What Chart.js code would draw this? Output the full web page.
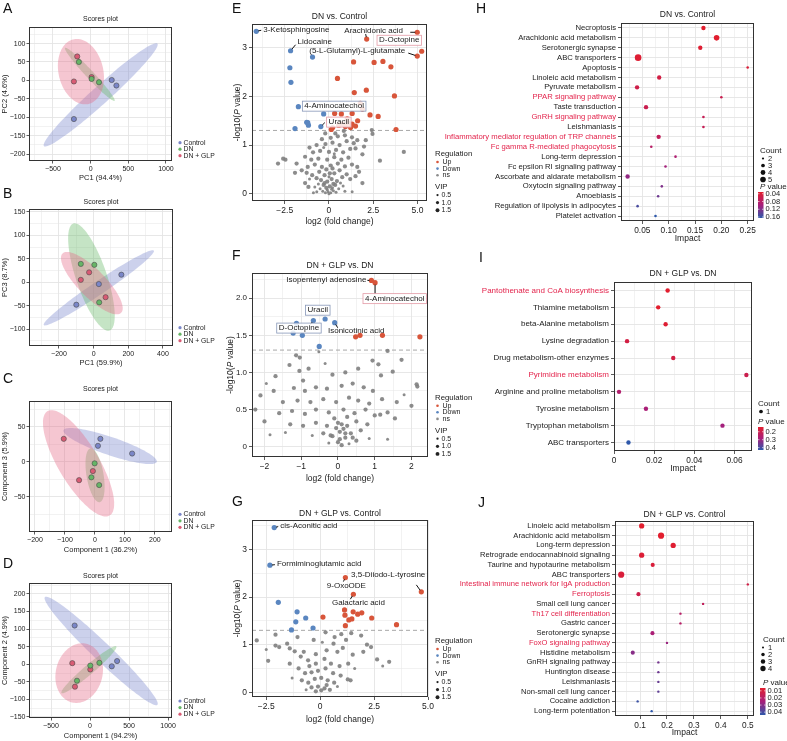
<!DOCTYPE html>
<html>
<head>
<meta charset="utf-8">
<title>Metabolomics panels</title>
<script src="https://cdn.jsdelivr.net/npm/chart.js@4.4.1/dist/chart.umd.min.js"></script>
<style>
  html, body { margin: 0; padding: 0; background: #fff; }
  #page { position: relative; width: 787px; height: 741px; overflow: hidden; font-family: Arial, "Liberation Sans", sans-serif; }
  #page canvas { position: absolute; }
  .tag { position: absolute; font-size: 14px; line-height: 14px; color: #111; }
</style>
</head>
<body>
<div id="page">
  <canvas id="cA"></canvas><canvas id="cB"></canvas><canvas id="cC"></canvas><canvas id="cD"></canvas>
  <canvas id="cE"></canvas><canvas id="cF"></canvas><canvas id="cG"></canvas>
  <canvas id="cH"></canvas><canvas id="cI"></canvas><canvas id="cJ"></canvas>
  <div class="tag" style="left:3px;top:1px">A</div>
  <div class="tag" style="left:3px;top:186px">B</div>
  <div class="tag" style="left:3px;top:371px">C</div>
  <div class="tag" style="left:3px;top:556px">D</div>
  <div class="tag" style="left:232px;top:1px">E</div>
  <div class="tag" style="left:232px;top:248px">F</div>
  <div class="tag" style="left:232px;top:494px">G</div>
  <div class="tag" style="left:476px;top:1px">H</div>
  <div class="tag" style="left:479px;top:250px">I</div>
  <div class="tag" style="left:478px;top:495px">J</div>
</div>
<script>
const FONT = 'Arial, "Liberation Sans", sans-serif';
const INK = '#1a1a1a';
const LABEL_RED = '#e3244c';

// ---- A-D scores plots: [x, y] per sample ----
const groupNames = ['Control', 'DN', 'DN + GLP'];
const groupColors = ['#7a86c8', '#66b566', '#d95b74'];
const groupFills = ['rgba(122,134,204,0.38)', 'rgba(102,184,102,0.38)', 'rgba(228,104,134,0.38)'];

const aControl = [[-222, -105], [280, 1], [342, -14]];
const aDN = [[-156, 50], [13, 4], [111, -5]];
const aGLP = [[-178, 65], [-222, -3], [13, 9]];
const aXTicks = [-500, 0, 500, 1000];
const aYTicks = [-200, -150, -100, -50, 0, 50, 100];

const bControl = [[160, 16], [30, -4], [-100, -48]];
const bDN = [[-74, 39], [4, 37], [32, -43]];
const bGLP = [[-26, 21], [-74, 5], [69, -32]];
const bXTicks = [-200, 0, 200, 400];
const bYTicks = [-100, -50, 0, 50, 100, 150];

const cControl = [[18, 33], [10, 23], [124, 12]];
const cDN = [[-1, -2], [-12, -22], [14, -33]];
const cGLP = [[-104, 33], [-7, -13], [-53, -26]];
const cXTicks = [-200, -100, 0, 100, 200];
const cYTicks = [-50, 0, 50];

const dControl = [[-197, 110], [347, 9], [279, -6]];
const dDN = [[4, -4], [120, 4], [-167, -47]];
const dGLP = [[-227, 3], [4, -15], [-193, -64]];
const dXTicks = [-500, 0, 500, 1000];
const dYTicks = [-150, -100, -50, 0, 50, 100, 150, 200];

// ---- E-G volcano plots: [log2FC, -log10 P] (ns also carries VIP) ----
const upColor = '#d8553a';
const downColor = '#5a86c0';
const nsColor = 'rgba(128,128,128,0.9)';
const sigVip = 1.5;
const vipLegend = [0.5, 1.0, 1.5];

const eUp = [[2.13, 3.18], [4.99, 3.32], [4.99, 2.83], [5.24, 2.93], [1.39, 2.71], [2.55, 2.70], [3.05, 2.72], [3.50, 2.61],
  [0.48, 2.37], [1.43, 2.08], [2.11, 2.13], [3.70, 2.01], [1.77, 1.86], [1.89, 1.74], [0.32, 1.65], [0.70, 1.64],
  [1.03, 1.54], [1.31, 1.65], [2.32, 1.62], [2.78, 1.59], [0.78, 1.43], [1.09, 1.45], [1.50, 1.39], [0.93, 1.38],
  [1.31, 1.43], [1.62, 1.50], [0.13, 1.32], [0.21, 1.36], [3.79, 1.32], [0.55, 1.41], [1.22, 1.36]];
const eDown = [[-4.11, 3.34], [-2.17, 2.94], [-1.73, 1.79], [-0.46, 1.38], [-0.93, 2.81], [-2.21, 2.59], [-2.15, 2.29],
  [-0.30, 1.64], [-1.26, 1.47], [-1.16, 1.41], [-1.20, 1.46], [-1.92, 1.34]];
const eNs = [[-0.35, 0.05, 0.5], [-0.2, 0.02, 0.5], [-0.05, 0.04, 0.5], [0.1, 0.02, 0.5], [0.25, 0.06, 0.5], [0.4, 0.03, 0.5],
  [-0.5, 0.1, 0.5], [0.55, 0.1, 0.5], [-0.15, 0.12, 1], [0.05, 0.15, 1], [0.2, 0.12, 0.5], [-0.3, 0.18, 1], [0.35, 0.18, 1],
  [-0.6, 0.2, 0.5], [0.65, 0.22, 0.5], [-0.8, 0.14, 0.5], [0.8, 0.16, 0.5], [-0.88, 0.02, 0.5], [-0.69, 0.04, 0.5],
  [1.31, 0.04, 0.5], [0.9, 0.05, 0.5], [-0.1, 0.08, 0.5], [0.15, 0.09, 0.5], [0.0, 0.0, 0.5], [-0.25, 0.22, 1], [0.25, 0.2, 1],
  [-0.45, 0.28, 1], [-0.1, 0.25, 1], [0.15, 0.3, 1], [0.45, 0.26, 1], [-0.7, 0.32, 1], [0.75, 0.34, 1], [-0.95, 0.38, 1],
  [1.0, 0.4, 1], [-0.25, 0.38, 1], [0.3, 0.42, 1], [-1.16, 0.14, 1], [-1.35, 0.22, 1], [1.89, 0.22, 1], [-0.55, 0.45, 1],
  [0.6, 0.48, 1], [1.2, 0.3, 1], [-1.1, 0.3, 0.5], [1.5, 0.36, 1], [0.0, 0.35, 0.5], [-1.26, 0.43, 1], [-1.92, 0.43, 1],
  [1.7, 0.45, 1], [0.05, 0.42, 1], [-0.15, 0.5, 1], [0.2, 0.52, 1],
  [-1.54, 0.48, 1], [-1.2, 0.55, 1], [-0.8, 0.6, 1], [-0.4, 0.55, 1], [0.1, 0.58, 1], [0.5, 0.62, 1], [0.9, 0.56, 1],
  [1.3, 0.6, 1], [1.6, 0.55, 1], [-1.0, 0.7, 1], [-0.6, 0.72, 1], [-0.1, 0.7, 1], [0.3, 0.75, 1], [0.7, 0.7, 1],
  [1.1, 0.74, 1], [1.89, 0.81, 1], [-1.35, 0.76, 1], [-1.83, 0.62, 1], [-2.88, 0.62, 1], [-2.59, 0.72, 1], [-2.46, 0.7, 1],
  [2.88, 0.68, 1], [4.23, 0.86, 1], [1.5, 0.93, 1], [1.98, 0.97, 1],
  [-0.9, 0.85, 1], [-0.5, 0.88, 1], [0.0, 0.86, 1], [0.4, 0.9, 1], [0.8, 0.85, 1], [1.2, 0.92, 1], [-0.7, 1.0, 1],
  [-0.2, 1.02, 1], [0.2, 1.05, 1], [0.6, 1.0, 1], [1.0, 1.08, 1], [1.4, 1.04, 1], [-0.4, 1.12, 1], [0.1, 1.15, 1],
  [0.5, 1.18, 1], [0.9, 1.2, 1], [1.3, 1.16, 1], [2.08, 1.1, 1], [-0.21, 1.24, 1], [0.36, 1.24, 1], [0.84, 1.29, 1],
  [2.42, 1.31, 1], [2.46, 1.23, 1], [-1.1, 0.95, 1], [-0.3, 0.95, 0.5], [0.3, 0.82, 0.5], [1.6, 1.1, 1]];
const eXTicks = [-2.5, 0, 2.5, 5];
const eYTicks = [0, 1, 2, 3];

const fUp = [[0.91, 2.24], [1.01, 2.21], [0.48, 1.48], [0.60, 1.50], [1.21, 1.50], [2.23, 1.48]];
const fDown = [[-0.35, 1.72], [-0.67, 1.70], [-0.09, 1.67], [-1.13, 1.66], [-1.22, 1.53], [-0.97, 1.50], [-0.51, 1.35]];
const fNs = [[-1.14, 1.23, 1], [-1.04, 1.2, 1], [-1.32, 1.1, 1], [-0.52, 1.28, 0.5], [1.35, 1.29, 1], [0.94, 1.16, 1],
  [1.1, 1.11, 1], [1.73, 1.17, 1], [-1.05, 1.02, 1], [-0.95, 0.89, 1], [-0.15, 0.97, 1], [1.17, 0.96, 1], [1.49, 1.01, 1],
  [2.14, 0.84, 1], [2.16, 0.81, 1], [-1.75, 0.75, 1], [-2.11, 0.69, 1], [-1.2, 0.79, 1], [-2.25, 0.5, 1], [-2.0, 0.34, 1],
  [-1.85, 0.16, 0.5], [-1.43, 0.19, 0.5], [1.35, 0.46, 1], [1.15, 0.43, 1], [1.35, 0.1, 0.5], [0.85, 0.11, 0.5], [0.62, 0.22, 1],
  [-0.9, 0.75, 1], [-0.6, 0.8, 1], [-0.3, 0.78, 1], [0.1, 0.82, 1], [0.4, 0.85, 1], [0.7, 0.8, 1], [0.95, 0.75, 1],
  [-1.5, 0.6, 1], [-1.1, 0.62, 1], [-0.75, 0.6, 1], [-0.4, 0.64, 1], [-0.05, 0.6, 1], [0.3, 0.66, 1], [0.55, 0.62, 1],
  [0.85, 0.58, 1], [1.2, 0.64, 1], [1.6, 0.6, 1], [-1.6, 0.45, 1], [-1.25, 0.48, 1], [-0.9, 0.44, 1], [-0.6, 0.5, 1],
  [-0.25, 0.46, 1], [0.15, 0.5, 1], [0.45, 0.45, 1], [0.75, 0.5, 1], [1.0, 0.42, 1], [1.55, 0.38, 1], [-1.3, 0.3, 1],
  [-0.95, 0.28, 1], [-0.6, 0.32, 1], [-0.3, 0.28, 1], [0.0, 0.32, 1], [0.25, 0.28, 1], [0.5, 0.34, 1], [0.8, 0.3, 1],
  [-0.7, 0.15, 0.5], [-0.4, 0.18, 1], [-0.15, 0.14, 1], [0.05, 0.2, 1], [0.2, 0.12, 1], [0.35, 0.18, 1], [0.5, 0.08, 1],
  [-0.25, 0.05, 0.5], [0.0, 0.06, 1], [0.1, 0.02, 1], [0.3, 0.04, 0.5], [-0.05, 0.25, 1], [0.15, 0.24, 1], [-1.7, 0.95, 1],
  [-0.8, 1.05, 1], [0.55, 1.05, 1], [-0.35, 1.12, 0.5], [0.2, 1.0, 1], [1.8, 0.7, 0.5], [2.0, 0.55, 1], [-1.95, 0.85, 0.5],
  [0.05, 0.1, 1], [0.2, 0.18, 1], [0.1, 0.3, 1], [-0.1, 0.38, 1], [0.25, 0.4, 1], [0.4, 0.12, 1], [-0.2, 0.15, 1]];
const fXTicks = [-2, -1, 0, 1, 2];
const fYTicks = [0, 0.5, 1, 1.5, 2];

const gUp = [[4.69, 2.11], [1.17, 2.41], [1.54, 2.06], [0.13, 1.58], [1.13, 1.73], [1.53, 1.69], [1.93, 1.67], [1.74, 1.64],
  [1.33, 1.52], [1.47, 1.54], [1.17, 1.40], [2.39, 1.56], [3.54, 1.42], [1.15, 1.62]];
const gDown = [[-2.13, 3.46], [-2.33, 2.67], [-1.94, 1.89], [-1.07, 1.69], [-1.13, 1.48], [-0.67, 1.56], [-0.33, 1.35], [-1.33, 1.31]];
const gNs = [[-2.07, 1.21, 1], [-2.94, 1.09, 1], [-2.41, 0.66, 1], [-2.07, 0.98, 1], [-1.9, 0.95, 1], [-1.53, 1.02, 1],
  [-1.41, 0.92, 1], [-1.05, 1.16, 1], [0.25, 1.26, 1], [0.67, 1.16, 1], [0.98, 1.22, 1], [1.44, 1.24, 1], [1.9, 1.19, 1],
  [2.17, 1.0, 1], [2.36, 0.95, 1], [2.64, 0.69, 1], [3.2, 0.64, 1], [0.62, 1.02, 1], [1.05, 0.93, 1], [1.51, 0.79, 1],
  [1.28, 0.27, 1], [1.41, 0.25, 1], [-1.41, 0.6, 1], [-1.18, 0.86, 1], [-0.76, 0.85, 1], [-0.56, 0.67, 1],
  [-0.3, 1.1, 1], [0.1, 1.05, 0.5], [1.2, 1.1, 1], [0.8, 0.85, 1], [0.3, 0.88, 1], [-0.2, 0.8, 1], [-0.9, 0.75, 1],
  [-0.5, 0.55, 1], [-0.2, 0.6, 1], [0.2, 0.7, 1], [0.5, 0.6, 1], [0.9, 0.55, 1], [1.3, 0.6, 1], [-1.0, 0.5, 1],
  [-0.7, 0.4, 1], [-0.4, 0.42, 1], [-0.1, 0.45, 1], [0.25, 0.5, 1], [0.6, 0.4, 1], [0.95, 0.35, 1], [-0.85, 0.25, 1],
  [-0.55, 0.2, 1], [-0.25, 0.28, 1], [0.05, 0.3, 1], [0.35, 0.25, 1], [0.65, 0.2, 1], [-0.4, 0.1, 1], [-0.1, 0.12, 1],
  [0.2, 0.08, 1], [0.45, 0.05, 1], [-0.2, 0.02, 1], [0.05, 0.04, 1], [0.3, 0.15, 1], [-0.65, 0.05, 0.5], [0.8, 0.12, 0.5],
  [1.6, 0.5, 0.5], [2.0, 0.85, 1], [-1.3, 0.3, 0.5], [-2.5, 0.9, 0.5], [2.9, 0.55, 0.5]];
const gXTicks = [-2.5, 0, 2.5, 5];
const gYTicks = [0, 1, 2, 3];

// ---- H-J pathway dot plots ----
const hPathways = ['Necroptosis', 'Arachidonic acid metabolism', 'Serotonergic synapse', 'ABC transporters', 'Apoptosis',
  'Linoleic acid metabolism', 'Pyruvate metabolism', 'PPAR signaling pathway', 'Taste transduction', 'GnRH signaling pathway',
  'Leishmaniasis', 'Inflammatory mediator regulation of TRP channels', 'Fc gamma R-mediated phagocytosis',
  'Long-term depression', 'Fc epsilon RI signaling pathway', 'Ascorbate and aldarate metabolism',
  'Oxytocin signaling pathway', 'Amoebiasis', 'Regulation of lipolysis in adipocytes', 'Platelet activation'];
const hImpact = [0.166, 0.191, 0.160, 0.042, 0.250, 0.082, 0.040, 0.200, 0.057, 0.166, 0.166, 0.081, 0.067, 0.113,
  0.094, 0.022, 0.087, 0.080, 0.041, 0.075];
const hPvalue = [0.031, 0.032, 0.035, 0.036, 0.04, 0.05, 0.055, 0.06, 0.06, 0.065, 0.065, 0.07, 0.08, 0.09, 0.10,
  0.11, 0.12, 0.13, 0.15, 0.165];
const hCount = [3, 4, 3, 5, 2, 3, 3, 2, 3, 2, 2, 3, 2, 2, 2, 3, 2, 2, 2, 2];
const hHighlight = ['PPAR signaling pathway', 'GnRH signaling pathway', 'Inflammatory mediator regulation of TRP channels',
  'Fc gamma R-mediated phagocytosis'];
const hXTicks = [0.05, 0.10, 0.15, 0.20, 0.25];
const hPTicks = [0.04, 0.08, 0.12, 0.16];

const iPathways = ['Pantothenate and CoA biosynthesis', 'Thiamine metabolism', 'beta-Alanine metabolism',
  'Lysine degradation', 'Drug metabolism-other enzymes', 'Pyrimidine metabolism', 'Arginine and proline metabolism',
  'Tyrosine metabolism', 'Tryptophan metabolism', 'ABC transporters'];
const iImpact = [0.0267, 0.022, 0.0257, 0.0065, 0.0295, 0.0659, 0.0025, 0.0159, 0.054, 0.0072];
const iPvalue = [0.14, 0.14, 0.15, 0.18, 0.18, 0.2, 0.26, 0.28, 0.29, 0.43];
const iCount = [1, 1, 1, 1, 1, 1, 1, 1, 1, 1];
const iHighlight = ['Pantothenate and CoA biosynthesis', 'Pyrimidine metabolism'];
const iXTicks = [0, 0.02, 0.04, 0.06];
const iPTicks = [0.2, 0.3, 0.4];

const jPathways = ['Linoleic acid metabolism', 'Arachidonic acid metabolism', 'Long-term depression',
  'Retrograde endocannabinoid signaling', 'Taurine and hypotaurine metabolism', 'ABC transporters',
  'Intestinal immune network for IgA production', 'Ferroptosis', 'Small cell lung cancer', 'Th17 cell differentiation',
  'Gastric cancer', 'Serotonergic synapse', 'FoxO signaling pathway', 'Histidine metabolism', 'GnRH signaling pathway',
  'Huntington disease', 'Leishmaniasis', 'Non-small cell lung cancer', 'Cocaine addiction', 'Long-term potentiation'];
const jImpact = [0.106, 0.178, 0.223, 0.106, 0.147, 0.030, 0.500, 0.094, 0.334, 0.250, 0.250, 0.146, 0.200, 0.073,
  0.168, 0.168, 0.168, 0.168, 0.091, 0.143];
const jPvalue = [0.006, 0.006, 0.007, 0.008, 0.009, 0.009, 0.012, 0.013, 0.017, 0.02, 0.02, 0.024, 0.027, 0.03,
  0.033, 0.034, 0.035, 0.036, 0.042, 0.044];
const jCount = [3, 4, 3, 3, 2, 4, 1, 2, 1, 1, 1, 2, 1, 2, 1, 1, 1, 1, 1, 1];
const jHighlight = ['Intestinal immune network for IgA production', 'Ferroptosis', 'Th17 cell differentiation',
  'FoxO signaling pathway'];
const jXTicks = [0.1, 0.2, 0.3, 0.4, 0.5];
const jPTicks = [0.01, 0.02, 0.03, 0.04];

// page geometry: canvas box and plot box, [left, top, right, bottom]
const layout = {
  A: { canvas: [0, 0, 255, 186], plot: [29, 27, 172, 161] },
  B: { canvas: [0, 186, 255, 370], plot: [29, 209, 173, 346] },
  C: { canvas: [0, 370, 255, 556], plot: [29, 401, 172, 532] },
  D: { canvas: [0, 556, 255, 741], plot: [29, 583, 172, 718] },
  E: { canvas: [226, 0, 482, 236], plot: [252, 24, 427, 201] },
  F: { canvas: [226, 246, 482, 486], plot: [252, 273, 428, 457] },
  G: { canvas: [226, 492, 482, 741], plot: [252, 520, 428, 697] },
  H: { canvas: [395, 0, 787, 246], plot: [621, 23, 754, 221] },
  I: { canvas: [440, 246, 787, 486], plot: [614, 282, 752, 451] },
  J: { canvas: [420, 492, 787, 741], plot: [615, 521, 754, 716] }
};

Chart.defaults.font.family = FONT;

const minus = s => String(s).replace('-', '\u2212');

function buildTicks(majors, min, max) {
  const step = majors[1] - majors[0];
  const out = [];
  for (let i = -1; i < majors.length; i++) {
    const base = i < 0 ? majors[0] - step : majors[i];
    if (i >= 0) out.push({ value: majors[i] });
    const mid = +(base + step / 2).toFixed(6);
    if (mid > min && mid < max) out.push({ value: mid });
  }
  return out.sort((a, b) => a.value - b.value);
}

function linAxis(o) {
  const majorSet = new Set(o.majors);
  const isMajor = ctx => !!ctx.tick && majorSet.has(ctx.tick.value);
  return {
    type: 'linear', position: o.pos, min: o.min, max: o.max,
    afterBuildTicks: s => { s.ticks = buildTicks(o.majors, o.min, o.max); },
    afterFit: s => { if (o.pos === 'left') s.width = o.size; else s.height = o.size; },
    grid: {
      color: '#e4e4e4',
      lineWidth: ctx => isMajor(ctx) ? 0.9 : 0.5,
      tickLength: o.tickLen || 3,
      tickWidth: 0.8,
      tickColor: ctx => isMajor(ctx) ? '#333' : 'rgba(0,0,0,0)'
    },
    border: { display: false },
    ticks: {
      autoSkip: false, maxRotation: 0, padding: o.pad || 2, color: INK,
      font: { family: FONT, size: o.font },
      callback: v => majorSet.has(v) ? o.fmt(v) : ''
    }
  };
}

function richWidth(c, parts, size) {
  let w = 0;
  parts.forEach(p => { c.font = (p[1] ? 'italic ' : '') + size + 'px ' + FONT; w += c.measureText(p[0]).width; });
  return w;
}

function drawRich(c, parts, x, y, size, align) {
  const w = richWidth(c, parts, size);
  let cx = align === 'left' ? x : x - w / 2;
  c.textAlign = 'left';
  c.textBaseline = 'middle';
  parts.forEach(p => {
    c.font = (p[1] ? 'italic ' : '') + size + 'px ' + FONT;
    c.fillText(p[0], cx, y);
    cx += c.measureText(p[0]).width;
  });
}

function dot(c, x, y, r, color) {
  c.fillStyle = color;
  c.beginPath();
  c.arc(x, y, r, 0, Math.PI * 2);
  c.fill();
}

function deco(key, spec) {
  const L = layout[key];
  const ox = L.canvas[0], oy = L.canvas[1];
  return {
    id: 'deco' + key,
    beforeDatasetsDraw(chart) {
      if (!spec.under) return;
      const c = chart.ctx, a = chart.chartArea;
      c.save();
      c.beginPath();
      c.rect(a.left, a.top, a.right - a.left, a.bottom - a.top);
      c.clip();
      spec.under(chart);
      c.restore();
    },
    afterDatasetsDraw(chart) {
      if (!spec.over) return;
      chart.ctx.save();
      spec.over(chart);
      chart.ctx.restore();
    },
    afterDraw(chart) {
      const c = chart.ctx, a = chart.chartArea;
      c.save();
      c.strokeStyle = '#333';
      c.lineWidth = 1;
      c.strokeRect(a.left + 0.5, a.top + 0.5, a.right - a.left - 1, a.bottom - a.top - 1);
      c.fillStyle = INK;
      drawRich(c, [[spec.title]], (a.left + a.right) / 2, spec.titleY - oy, spec.titleSize);
      drawRich(c, spec.xTitle, (a.left + a.right) / 2, spec.xTitleY - oy, spec.axisSize);
      if (spec.yTitle) {
        c.save();
        c.translate(spec.yTitleX - ox, (a.top + a.bottom) / 2);
        c.rotate(-Math.PI / 2);
        drawRich(c, spec.yTitle, 0, 0, spec.axisSize);
        c.restore();
      }
      if (spec.legend) spec.legend(c, ox, oy);
      c.restore();
    }
  };
}

function prepCanvas(key) {
  const L = layout[key];
  const el = document.getElementById('c' + key);
  el.width = L.canvas[2] - L.canvas[0];
  el.height = L.canvas[3] - L.canvas[1];
  el.style.left = L.canvas[0] + 'px';
  el.style.top = L.canvas[1] + 'px';
  return el;
}

function baseOptions(key, scales) {
  const L = layout[key];
  return {
    responsive: false, animation: false, events: [],
    layout: { padding: { left: 0, top: L.plot[1] - L.canvas[1], right: L.canvas[2] - L.plot[2], bottom: 0 } },
    plugins: { legend: { display: false }, tooltip: { enabled: false } },
    scales
  };
}

const sizes = key => {
  const L = layout[key];
  return { yW: L.plot[0] - L.canvas[0], xH: L.canvas[3] - L.plot[3] };
};

// ---------- scores plots ----------
function drawEllipse(chart, pts, fill) {
  const n = pts.length;
  const mx = pts.reduce((s, p) => s + p[0], 0) / n;
  const my = pts.reduce((s, p) => s + p[1], 0) / n;
  let a = 0, b = 0, d = 0;
  pts.forEach(p => { const dx = p[0] - mx, dy = p[1] - my; a += dx * dx; b += dx * dy; d += dy * dy; });
  a /= n - 1; b /= n - 1; d /= n - 1;
  const tr = (a + d) / 2, disc = Math.sqrt(((a - d) / 2) ** 2 + b * b);
  const l1 = tr + disc, l2 = Math.max(tr - disc, 0);
  const th = 0.5 * Math.atan2(2 * b, a - d);
  const k = Math.sqrt(5.991); // 95% chi-square, 2 df
  const xs = chart.scales.x, ys = chart.scales.y, c = chart.ctx;
  c.beginPath();
  for (let i = 0; i <= 120; i++) {
    const t = i / 120 * Math.PI * 2;
    const u = k * Math.sqrt(l1) * Math.cos(t), v = k * Math.sqrt(l2) * Math.sin(t);
    const x = mx + u * Math.cos(th) - v * Math.sin(th);
    const y = my + u * Math.sin(th) + v * Math.cos(th);
    const px = xs.getPixelForValue(x), py = ys.getPixelForValue(y);
    if (i) c.lineTo(px, py); else c.moveTo(px, py);
  }
  c.closePath();
  c.fillStyle = fill;
  c.fill();
}

function scoresChart(key, groups, xr, yr, xTicks, yTicks, xTitle, yTitle, titleY, xTitleY, legendY) {
  const s = sizes(key);
  const fmt = v => minus(v);
  new Chart(prepCanvas(key), {
    type: 'scatter',
    data: {
      datasets: groups.map((g, i) => ({
        data: g.map(p => ({ x: p[0], y: p[1] })),
        pointRadius: 2.6, pointBackgroundColor: groupColors[i],
        pointBorderColor: '#4a4a4a', pointBorderWidth: 0.6
      }))
    },
    options: baseOptions(key, {
      x: linAxis({ pos: 'bottom', min: xr[0], max: xr[1], majors: xTicks, fmt, size: s.xH, font: 7, tickLen: 2.5, pad: 1 }),
      y: linAxis({ pos: 'left', min: yr[0], max: yr[1], majors: yTicks, fmt, size: s.yW, font: 7, tickLen: 2.5, pad: 1 })
    }),
    plugins: [deco(key, {
      title: 'Scores plot', titleY, titleSize: 7,
      xTitle: [[xTitle]], xTitleY, yTitle: [[yTitle]], yTitleX: 5, axisSize: 7.5,
      under: chart => groups.forEach((g, i) => drawEllipse(chart, g, groupFills[i])),
      legend: (c, ox, oy) => {
        groupNames.forEach((g, i) => {
          dot(c, 180 - ox, legendY[i] - oy, 1.6, groupColors[i]);
          c.fillStyle = INK;
          drawRich(c, [[g]], 183.5 - ox, legendY[i] - oy, 6.8, 'left');
        });
      }
    })]
  });
}

scoresChart('A', [aControl, aDN, aGLP], [-818, 1080], [-219, 145], aXTicks, aYTicks, 'PC1 (94.4%)', 'PC2 (4.6%)', 19.3, 178, [142.7, 149.2, 155.7]);
scoresChart('B', [bControl, bDN, bGLP], [-373, 458], [-136, 156], bXTicks, bYTicks, 'PC1 (59.9%)', 'PC3 (8.7%)', 202.3, 362.7, [327.7, 334.2, 340.7]);
scoresChart('C', [cControl, cDN, cGLP], [-220, 257], [-100, 87], cXTicks, cYTicks, 'Component 1 (36.2%)', 'Component 3 (5.9%)', 389.3, 550, [514.3, 520.8, 527.3]);
scoresChart('D', [dControl, dDN, dGLP], [-782, 1051], [-153, 231], dXTicks, dYTicks, 'Component 1 (94.2%)', 'Component 2 (4.9%)', 575.7, 735.5, [701, 707.6, 714.2]);

// ---------- volcano plots ----------
const vipRadius = v => Math.sqrt(Math.max(0.5, 2.25 + (v - 0.5) * 4.5));
const PINK_BOX = '#e39aa6';
const BLUE_BOX = '#8797b8';

// label placement: which point, text offset (px), leader end (px)
const eLabels = [
  { text: '3-Ketosphingosine', set: 'down', i: 0, dx: 7, dy: -1, align: 'left', lx: 5, ly: -1 },
  { text: 'Lidocaine', set: 'down', i: 1, dx: 7, dy: -9, align: 'left', lx: 5, ly: -6 },
  { text: '(5-L-Glutamyl)-L-glutamate', set: 'up', i: 2, dx: -12, dy: -5, align: 'right', lx: -9, ly: -3 },
  { text: 'Arachidonic acid', set: 'up', i: 0, dx: 7, dy: -8.5, align: 'center', lx: -1, ly: -5 },
  { text: 'D-Octopine', set: 'up', i: 1, dx: -18, dy: 8, align: 'center', lx: -7, ly: 0, box: PINK_BOX },
  { text: '4-Aminocatechol', set: 'down', i: 2, dx: 6, dy: -0.5, align: 'left', box: BLUE_BOX },
  { text: 'Uracil', set: 'down', i: 3, dx: 18, dy: -4.5, align: 'center', lx: 4, ly: -4, box: PINK_BOX }
];
const fLabels = [
  { text: 'Isopentenyl adenosine', set: 'up', i: 0, dx: -5, dy: -0.5, align: 'right', lx: -4, ly: 0 },
  { text: '4-Aminocatechol', set: 'up', i: 1, dx: 19.7, dy: 16, align: 'center', lx: 0, ly: 11, box: PINK_BOX },
  { text: 'Uracil', set: 'down', i: 0, dx: -7.3, dy: -8.8, align: 'center', box: BLUE_BOX },
  { text: 'D-Octopine', set: 'down', i: 1, dx: -14.4, dy: 7.6, align: 'center', lx: -3, ly: 4, box: BLUE_BOX },
  { text: 'Isonicotinic acid', set: 'down', i: 2, dx: -6.7, dy: 7.8, align: 'left', lx: 3, ly: 5 }
];
const gLabels = [
  { text: 'cis-Aconitic acid', set: 'down', i: 0, dx: 6, dy: -2, align: 'left', lx: 4, ly: -1 },
  { text: 'Formiminoglutamic acid', set: 'down', i: 1, dx: 7, dy: -1, align: 'left', lx: 5, ly: -0.5 },
  { text: '3,5-Diiodo-L-tyrosine', set: 'up', i: 0, dx: 4, dy: -17.5, align: 'right', lx: -5, ly: -7 },
  { text: '9-OxoODE', set: 'up', i: 1, dx: 1, dy: 8.5, align: 'center', lx: -2, ly: 4 },
  { text: 'Galactaric acid', set: 'up', i: 2, dx: 5, dy: 9, align: 'center', lx: -3, ly: 5 }
];

function drawLabels(chart, labels, sets) {
  const c = chart.ctx, xs = chart.scales.x, ys = chart.scales.y;
  labels.forEach(Lb => {
    const p = sets[Lb.set][Lb.i];
    const px = xs.getPixelForValue(p[0]), py = ys.getPixelForValue(p[1]);
    if (Lb.lx !== undefined) {
      const len = Math.hypot(Lb.lx, Lb.ly) || 1;
      c.strokeStyle = '#111';
      c.lineWidth = 1;
      c.beginPath();
      c.moveTo(px + Lb.lx / len * 2, py + Lb.ly / len * 2);
      c.lineTo(px + Lb.lx, py + Lb.ly);
      c.stroke();
    }
    c.font = '8px ' + FONT;
    const w = c.measureText(Lb.text).width;
    const ax = px + Lb.dx, ay = py + Lb.dy;
    const left = Lb.align === 'left' ? ax : Lb.align === 'right' ? ax - w : ax - w / 2;
    if (Lb.box) {
      c.fillStyle = 'rgba(255,255,255,0.85)';
      c.fillRect(left - 2, ay - 5, w + 4, 10);
      c.strokeStyle = Lb.box;
      c.lineWidth = 0.8;
      c.strokeRect(left - 2, ay - 5, w + 4, 10);
    }
    c.fillStyle = INK;
    c.textAlign = 'left';
    c.textBaseline = 'middle';
    c.fillText(Lb.text, left, ay);
  });
}

function volcanoChart(key, o) {
  const s = sizes(key);
  new Chart(prepCanvas(key), {
    type: 'scatter',
    data: {
      datasets: [
        { data: o.ns.map(p => ({ x: p[0], y: p[1] })), pointRadius: o.ns.map(p => vipRadius(p[2])), pointBackgroundColor: nsColor, pointBorderWidth: 0 },
        { data: o.down.map(p => ({ x: p[0], y: p[1] })), pointRadius: vipRadius(sigVip), pointBackgroundColor: downColor, pointBorderWidth: 0 },
        { data: o.up.map(p => ({ x: p[0], y: p[1] })), pointRadius: vipRadius(sigVip), pointBackgroundColor: upColor, pointBorderWidth: 0 }
      ]
    },
    options: baseOptions(key, {
      x: linAxis({ pos: 'bottom', min: o.xr[0], max: o.xr[1], majors: o.xTicks, fmt: o.xFmt, size: s.xH, font: 8.5 }),
      y: linAxis({ pos: 'left', min: o.yr[0], max: o.yr[1], majors: o.yTicks, fmt: o.yFmt, size: s.yW, font: o.yFont })
    }),
    plugins: [deco(key, {
      title: o.title, titleY: o.titleY, titleSize: 8.5,
      xTitle: [['log2 (fold change)']], xTitleY: o.xTitleY,
      yTitle: [['-log10('], ['P', true], [' value)']], yTitleX: o.yTitleX, axisSize: 8.5,
      under: chart => {
        const c = chart.ctx, a = chart.chartArea;
        const y = chart.scales.y.getPixelForValue(-Math.log10(0.05));
        c.strokeStyle = '#a8a8a8';
        c.lineWidth = 1;
        c.setLineDash([4, 3]);
        c.beginPath();
        c.moveTo(a.left, y);
        c.lineTo(a.right, y);
        c.stroke();
        c.setLineDash([]);
      },
      over: chart => drawLabels(chart, o.labels, { up: o.up, down: o.down }),
      legend: (c, ox, oy) => {
        const x = 435 - ox, y0 = o.legendY - oy;
        c.fillStyle = INK;
        drawRich(c, [['Regulation']], x, y0, 7.8, 'left');
        [['Up', upColor], ['Down', downColor], ['ns', nsColor]].forEach((r, i) => {
          const y = y0 + 8 + i * 6.6;
          dot(c, x + 2.5, y, 1.3, r[1]);
          c.fillStyle = INK;
          drawRich(c, [[r[0]]], x + 7.5, y, 7, 'left');
        });
        drawRich(c, [['VIP']], x, y0 + 33, 7.8, 'left');
        vipLegend.forEach((v, i) => {
          const y = y0 + 41 + i * 7.6;
          dot(c, x + 2.5, y, vipRadius(v) * 0.75, '#222');
          c.fillStyle = INK;
          drawRich(c, [[v.toFixed(1)]], x + 6.5, y, 7, 'left');
        });
      }
    })]
  });
}

const fmt1 = v => v === 0 ? '0' : minus(v.toFixed(1));
const fmtInt = v => minus(v);

volcanoChart('E', { up: eUp, down: eDown, ns: eNs, labels: eLabels, xr: [-4.35, 5.54], yr: [-0.15, 3.49],
  xTicks: eXTicks, yTicks: eYTicks, xFmt: fmt1, yFmt: fmtInt, yFont: 8.5, yTitleX: 238,
  title: 'DN vs. Control', titleY: 16.5, xTitleY: 222, legendY: 154 });
volcanoChart('F', { up: fUp, down: fDown, ns: fNs, labels: fLabels, xr: [-2.34, 2.45], yr: [-0.14, 2.34],
  xTicks: fXTicks, yTicks: fYTicks, xFmt: fmtInt, yFmt: fmt1, yFont: 8, yTitleX: 231,
  title: 'DN + GLP vs. DN', titleY: 266, xTitleY: 479, legendY: 397.7 });
volcanoChart('G', { up: gUp, down: gDown, ns: gNs, labels: gLabels, xr: [-3.16, 5.0], yr: [-0.1, 3.62],
  xTicks: gXTicks, yTicks: gYTicks, xFmt: fmt1, yFmt: fmtInt, yFont: 8.5, yTitleX: 238,
  title: 'DN + GLP vs. Control', titleY: 513.3, xTitleY: 720, legendY: 641 });

// ---------- pathway dot plots ----------
const pStops = [[226, 30, 46], [168, 30, 122], [46, 88, 170]];
function pColor(t) {
  t = Math.min(1, Math.max(0, t));
  const seg = t < 0.5 ? 0 : 1;
  const u = t < 0.5 ? t * 2 : (t - 0.5) * 2;
  const A = pStops[seg], B = pStops[seg + 1];
  return 'rgb(' + A.map((v, i) => Math.round(v + (B[i] - v) * u)).join(',') + ')';
}

function dotChart(key, o) {
  const s = sizes(key);
  const pmin = Math.min(...o.p), pmax = Math.max(...o.p);
  const cmin = Math.min(...o.count), cmax = Math.max(...o.count);
  const rad = n => cmax === cmin ? o.rMid : Math.sqrt(o.rMin ** 2 + (n - cmin) / (cmax - cmin) * (o.rMax ** 2 - o.rMin ** 2));
  const red = new Set(o.highlight);
  const counts = [...new Set(o.count)].sort((a, b) => a - b);
  new Chart(prepCanvas(key), {
    type: 'scatter',
    data: {
      datasets: [{
        data: o.names.map((n, i) => ({ x: o.impact[i], y: n })),
        pointRadius: o.count.map(rad),
        pointBackgroundColor: o.p.map(v => pColor((v - pmin) / (pmax - pmin))),
        pointBorderWidth: 0
      }]
    },
    options: baseOptions(key, {
      x: linAxis({ pos: 'bottom', min: o.xr[0], max: o.xr[1], majors: o.xTicks, fmt: o.xFmt, size: s.xH, font: 8.3 }),
      y: {
        type: 'category', position: 'left', labels: o.names, offset: true,
        afterFit: sc => { sc.width = s.yW; },
        grid: { offset: false, color: '#e4e4e4', lineWidth: 0.9, tickLength: 3, tickWidth: 0.8, tickColor: '#333' },
        border: { display: false },
        ticks: {
          autoSkip: false, padding: 2, font: { family: FONT, size: o.labelSize },
          color: ctx => ctx.tick && red.has(ctx.tick.label) ? LABEL_RED : INK
        }
      }
    }),
    plugins: [deco(key, {
      title: o.title, titleY: o.titleY, titleSize: 8.5,
      xTitle: [['Impact']], xTitleY: o.xTitleY, axisSize: 8.5,
      legend: (c, ox, oy) => {
        const g = o.leg;
        c.fillStyle = INK;
        drawRich(c, [['Count']], g.x - ox, g.countY - oy, 8, 'left');
        counts.forEach((n, i) => {
          const y = g.countY + 7.5 + i * 7 - oy;
          dot(c, g.dotX - ox, y, rad(n) * 0.85, '#111');
          c.fillStyle = INK;
          drawRich(c, [[String(n)]], g.dotX + 5 - ox, y, 7.5, 'left');
        });
        drawRich(c, [['P', true], [' value']], g.x - ox, g.pY - oy, 8, 'left');
        const top = g.barTop - oy, bot = g.barBot - oy, bx = g.barX - ox;
        const grad = c.createLinearGradient(0, top, 0, bot);
        for (let k = 0; k <= 10; k++) grad.addColorStop(k / 10, pColor(k / 10));
        c.fillStyle = grad;
        c.fillRect(bx, top, 5.5, bot - top);
        c.fillStyle = INK;
        o.pTicks.forEach(v => {
          const y = top + (v - pmin) / (pmax - pmin) * (bot - top);
          c.strokeStyle = '#fff';
          c.lineWidth = 0.6;
          c.beginPath(); c.moveTo(bx, y); c.lineTo(bx + 1.5, y); c.moveTo(bx + 4, y); c.lineTo(bx + 5.5, y); c.stroke();
          drawRich(c, [[o.pFmt(v)]], bx + 7.5, y, 7.5, 'left');
        });
      }
    })]
  });
}

dotChart('H', { names: hPathways, impact: hImpact, p: hPvalue, count: hCount, highlight: hHighlight,
  xr: [0.0095, 0.262], xTicks: hXTicks, xFmt: v => v.toFixed(2), labelSize: 7.7,
  rMin: 1.3, rMax: 3.3, rMid: 2, pTicks: hPTicks, pFmt: v => v.toFixed(2),
  title: 'DN vs. Control', titleY: 15, xTitleY: 239,
  leg: { x: 760, countY: 151, dotX: 763, pY: 187, barX: 758, barTop: 192, barBot: 218 } });
dotChart('I', { names: iPathways, impact: iImpact, p: iPvalue, count: iCount, highlight: iHighlight,
  xr: [0, 0.0687], xTicks: iXTicks, xFmt: v => v === 0 ? '0' : v.toFixed(2), labelSize: 8,
  rMin: 1.2, rMax: 3, rMid: 2.2, pTicks: iPTicks, pFmt: v => v.toFixed(1),
  title: 'DN + GLP vs. DN', titleY: 274, xTitleY: 469,
  leg: { x: 758, countY: 404, dotX: 761, pY: 422, barX: 758, barTop: 427, barBot: 450 } });
dotChart('J', { names: jPathways, impact: jImpact, p: jPvalue, count: jCount, highlight: jHighlight,
  xr: [0.007, 0.523], xTicks: jXTicks, xFmt: v => v.toFixed(1), labelSize: 7.6,
  rMin: 1.2, rMax: 3.1, rMid: 2, pTicks: jPTicks, pFmt: v => v.toFixed(2),
  title: 'DN + GLP vs. Control', titleY: 515, xTitleY: 733,
  leg: { x: 763, countY: 640, dotX: 763, pY: 683, barX: 760, barTop: 688, barBot: 715 } });
</script>
</body>
</html>
